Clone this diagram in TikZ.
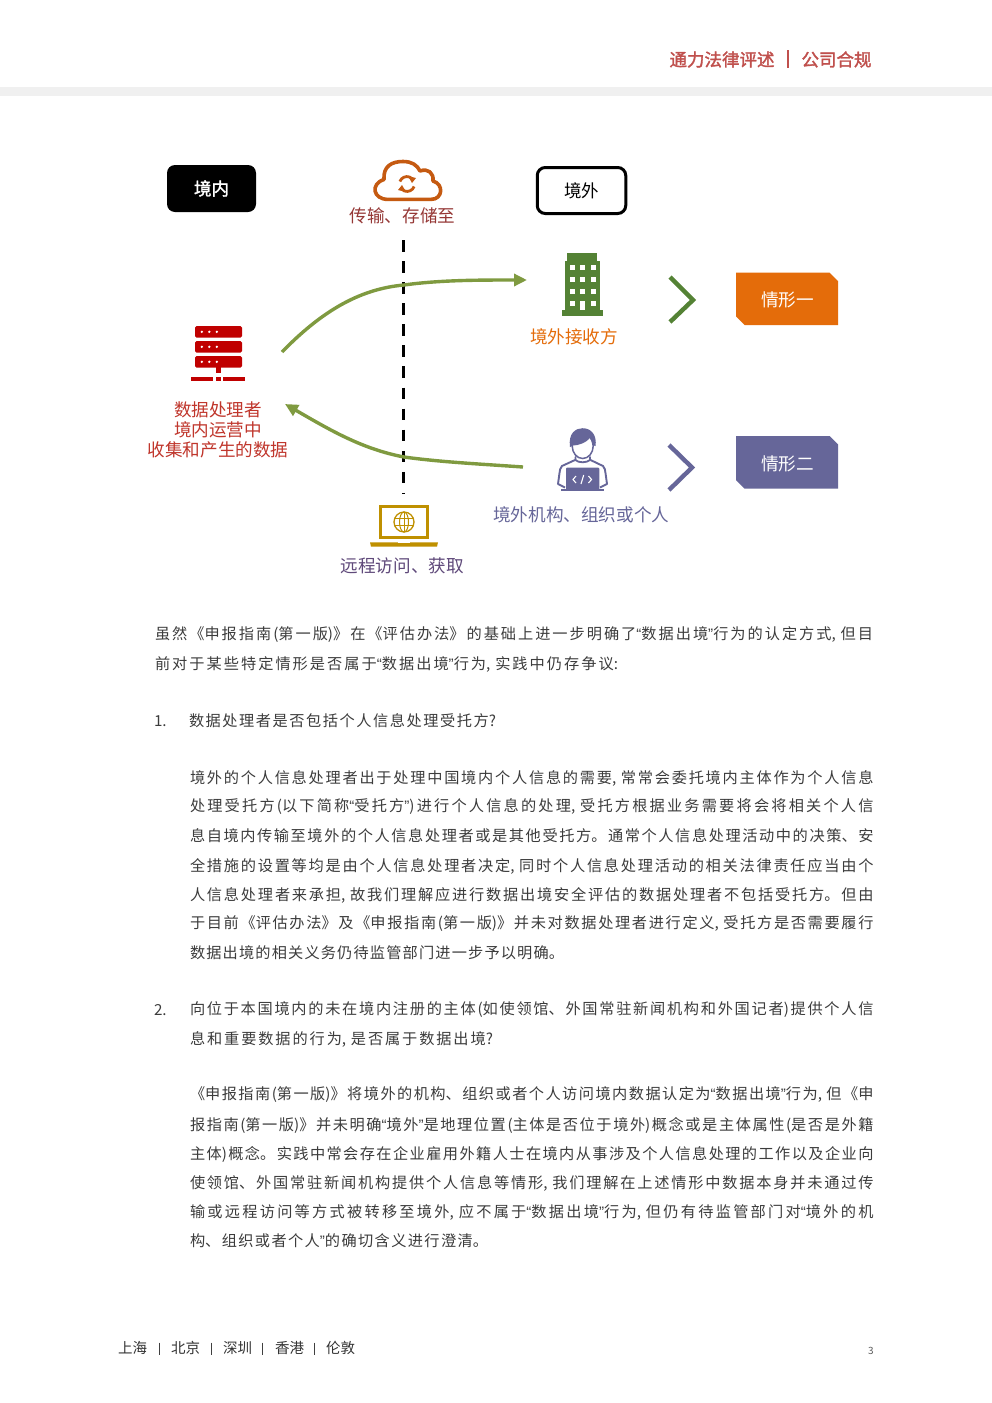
\documentclass[tikz,border=0pt]{standalone}
\usepackage{fontspec}
\setmainfont{Noto Sans CJK SC}
\newfontfamily\fbold[FakeBold=1.8]{Noto Sans CJK SC}
\newfontfamily\lat{Liberation Sans}
\XeTeXlinebreaklocale "zh"
\XeTeXlinebreakskip=0pt plus 3pt
\tolerance=10000 \hbadness=10000 \hfuzz=20pt
\parindent=0pt
\usetikzlibrary{arrows.meta}
\definecolor{cloudc}{HTML}{C55A11}
\definecolor{greenc}{HTML}{7F9A40}
\definecolor{bldc}{HTML}{548235}
\definecolor{redc}{HTML}{C00000}
\definecolor{redt}{HTML}{C0362C}
\definecolor{cloudt}{HTML}{953735}
\definecolor{orangec}{HTML}{E46C0A}
\definecolor{purpc}{HTML}{666699}
\definecolor{purpt}{HTML}{5F497A}
\definecolor{goldc}{HTML}{BF9000}
\definecolor{hdrc}{HTML}{C0504D}
\definecolor{bodyc}{HTML}{3C3C3C}
\newcommand{\Qo}{{\lat “}}
\newcommand{\Qc}{{\lat ”}}
\newcommand{\jl}[1]{{\parfillskip=0pt #1\par}}
\tikzset{
 every node/.style={inner sep=0pt,outer sep=0pt},
 lab/.style={font=\fontsize{17.6}{21}\selectfont,align=center},
 bodyt/.style={anchor=west,text=bodyc,font=\fontsize{15.2}{18}\selectfont},
 fullA/.style={bodyt,text width=718pt,align=justify},
 fullB/.style={bodyt,text width=683.5pt,align=justify},
 partl/.style={bodyt,text width=#1,align=justify},
 foot/.style={anchor=west,text=black!80,font=\fontsize{14.5}{17}\selectfont},
 footbar/.style={draw=black!75,line width=1pt},
 curve/.style={draw=greenc,line width=3.4pt,-{Triangle[length=13pt,width=12pt]}},
 chev/.style={line width=4.4pt,miter limit=10},
}
\begin{document}
\begin{tikzpicture}[x=1pt,y=-1pt]
\useasboundingbox (0,0) rectangle (992,1403);
\fill[white] (0,0) rectangle (992,1403);
% header
\fill[black!6] (0,87) rectangle (992,96);
\node[anchor=west,text=hdrc,font=\fbold\fontsize{17.5}{21}\selectfont] (hd1) at (669.5,59.5) {通力法律评述};
\coordinate (hb1) at (787.7,50); \coordinate (hb2) at (787.7,68);
\draw[hdrc,line width=1.6pt] (hb1) -- (hb2);
\node[anchor=west,text=hdrc,font=\fbold\fontsize{17.5}{21}\selectfont] (hd2) at (801.5,59.5) {公司合规};
% region boxes
\node[fill=black,rounded corners=8pt,minimum width=89pt,minimum height=47pt,text=white,font=\fbold\fontsize{17.5}{21}\selectfont] (inbox) at (211.5,188.5) {境内};
\node[draw=black,line width=3pt,fill=white,rounded corners=8pt,minimum width=88.5pt,minimum height=46pt,font=\fontsize{17.5}{21}\selectfont] (outbox) at (581.5,190.5) {境外};
% cloud
\draw[cloudc,line width=3.6pt,line join=round] (388,199.4) .. controls (373,199.4) and (370,184) .. (384,179.5) .. controls (383,166) and (392,161.5) .. (403,161.5) .. controls (412,161.5) and (417,165) .. (420,171) .. controls (428,168) and (434,173) .. (433,181) .. controls (444,184) and (443,199.4) .. (431,199.4) -- cycle;
\draw[cloudc,line width=2.8pt] (399.9,181.5) arc[start angle=200,end angle=320,radius=7.5];
\draw[cloudc,line width=2.8pt] (414.1,186.5) arc[start angle=20,end angle=140,radius=7.5];
\fill[cloudc] (408,176) -- (416,178) -- (412,183) -- cycle;
\fill[cloudc] (406,192) -- (398,190) -- (402,185) -- cycle;
\node[lab,text=cloudt] (lcloud) at (402.5,215.5) {传输、存储至};
% dashed divider
\coordinate (dtop) at (403.7,240); \coordinate (dbot) at (403.7,494);
\draw[black,line width=2.8pt,dash pattern=on 11.5pt off 9.58pt] (dtop) -- (dbot);
% curves
\coordinate (c1s) at (282,352); \coordinate (c1m) at (404,285); \coordinate (c1e) at (527,280);
\path[curve] (c1s) .. controls (320,313) and (358,289) .. (c1m) .. controls (440,280) and (480,280) .. (c1e);
\coordinate (c2s) at (523,467); \coordinate (c2m) at (404,457); \coordinate (c2e) at (285,404);
\path[curve] (c2s) .. controls (480,464) and (440,462) .. (c2m) .. controls (362,449) and (330,430) .. (c2e);
% server
\foreach \yy in {326,341,356}{
 \fill[redc,rounded corners=1.5pt] (195,\yy) rectangle (242,\yy+11.6);
 \foreach \xx in {201.8,209.3,216.8}{\fill[white] (\xx,\yy+5.8) circle (1.3);}
}
\fill[redc] (216,367) rectangle (220.6,373);
\fill[redc] (216,376.7) rectangle (220.6,381);
\fill[redc] (191,376.7) rectangle (212.7,381);
\fill[redc] (223.3,376.7) rectangle (245,381);
\node[lab,text=redt,font=\fontsize{17.6}{20}\selectfont] (lsrv) at (218,430) {数据处理者\\[-0.2pt]境内运营中\\[-0.2pt]收集和产生的数据};
% building
\fill[bldc] (567,253) rectangle (597,261);
\fill[bldc] (565,260.7) rectangle (600,310);
\fill[bldc] (562,310) rectangle (603,316);
\foreach \yy in {265,277,289}{\foreach \xx in {570,580,590.5}{\fill[white] (\xx,\yy) rectangle (\xx+5,\yy+5);}}
\fill[white] (570,301) rectangle (575,306);
\fill[white] (580,301) rectangle (585,310);
\fill[white] (590.5,301) rectangle (595.5,306);
\node[lab,text=orangec] (lbld) at (574,336.5) {境外接收方};
% chevrons
\coordinate (ch1a) at (670,277); \coordinate (ch1b) at (693,300); \coordinate (ch1c) at (670,322);
\draw[bldc,chev] (ch1a) -- (ch1b) -- (ch1c);
\coordinate (ch2a) at (669,445); \coordinate (ch2b) at (692,467.5); \coordinate (ch2c) at (669,490);
\draw[purpc,chev] (ch2a) -- (ch2b) -- (ch2c);
% cases
\fill[orangec] (736,272.7) -- (829.5,272.7) -- (838,281) -- (838,325) -- (744.5,325) -- (736,316.5) -- cycle;
\node[lab,text=white] (case1) at (787.5,299.5) {情形一};
\fill[purpc] (736,436) -- (829.5,436) -- (838,444.5) -- (838,488.7) -- (744.5,488.7) -- (736,480) -- cycle;
\node[lab,text=white] (case2) at (787.5,463.5) {情形二};
% person
\draw[purpc,line width=1.5pt,fill=white] (582.7,446) ellipse (10.5 and 12.5);
\fill[purpc] (570,447) .. controls (568,433) and (576,428.2) .. (582.5,428.2) .. controls (592,428.2) and (597,436) .. (595.5,446) -- (592.5,445) .. controls (592,442) and (591,440) .. (590,438) .. controls (586,443) and (578,445.5) .. (573,445.5) -- cycle;
\draw[purpc,line width=1.8pt,line join=round,line cap=round] (575.5,457) -- (575.5,460) .. controls (578,463) and (587,463) .. (590,460) -- (590,457);
\draw[purpc,line width=1.9pt,line join=round] (575,460) -- (562,466) .. controls (560,468) and (560,470) .. (559.5,473) -- (558,484) -- (565,487.5);
\draw[purpc,line width=1.9pt,line join=round] (590.5,460) -- (603,466) .. controls (605,468) and (605,470) .. (605.5,473) -- (607,484) -- (600,487.5);
\fill[purpc,rounded corners=1pt] (566,467.7) rectangle (599.3,490);
\fill[purpc] (561,489.2) rectangle (604,491);
\draw[white,line width=1.1pt] (576,476) -- (573,479.5) -- (576,483);
\draw[white,line width=1.1pt] (588.5,476) -- (591.5,479.5) -- (588.5,483);
\draw[white,line width=1.1pt] (583.7,475) -- (581,484);
\node[lab,text=purpc] (lper) at (581.3,515) {境外机构、组织或个人};
% laptop
\draw[goldc,line width=3.2pt] (380.6,506.6) rectangle (427.5,537.5);
\fill[goldc] (370,542.3) -- (438,542.3) -- (437,546.6) -- (371,546.6) -- cycle;
\fill[white] (398,542.3) rectangle (410,543.3);
\draw[goldc,line width=1.3pt] (404,522) circle (10);
\draw[goldc,line width=1pt] (404,522) ellipse (4.5 and 10);
\draw[goldc,line width=1pt] (404,512) -- (404,532);
\draw[goldc,line width=1pt] (395,518.5) -- (413,518.5);
\draw[goldc,line width=1pt] (395,525.5) -- (413,525.5);
\node[lab,text=purpt] (lrem) at (402.3,565.5) {远程访问、获取};
% body
\node[fullA] (t1) at (155,635) {\jl{虽然《申报指南(第一版)》在《评估办法》的基础上进一步明确了\Qo 数据出境\Qc 行为的认定方式, 但目}};
\node[partl=463pt] (t2) at (155,664) {\jl{前对于某些特定情形是否属于\Qo 数据出境\Qc 行为, 实践中仍存争议:}};
\node[bodyt] (n1) at (154,721.5) {1.};
\node[partl=307pt] (t3) at (189,721) {\jl{数据处理者是否包括个人信息处理受托方?}};
\node[fullB] (p1) at (190,778) {\jl{境外的个人信息处理者出于处理中国境内个人信息的需要, 常常会委托境内主体作为个人信息}};
\node[fullB] (p2) at (190,807) {\jl{处理受托方(以下简称\Qo 受托方\Qc)进行个人信息的处理, 受托方根据业务需要将会将相关个人信}};
\node[fullB] (p3) at (190,836) {\jl{息自境内传输至境外的个人信息处理者或是其他受托方。通常个人信息处理活动中的决策、安}};
\node[fullB] (p4) at (190,866) {\jl{全措施的设置等均是由个人信息处理者决定, 同时个人信息处理活动的相关法律责任应当由个}};
\node[fullB] (p5) at (190,895) {\jl{人信息处理者来承担, 故我们理解应进行数据出境安全评估的数据处理者不包括受托方。但由}};
\node[fullB] (p6) at (190,924) {\jl{于目前《评估办法》及《申报指南(第一版)》并未对数据处理者进行定义, 受托方是否需要履行}};
\node[partl=374pt] (p7) at (190,953) {\jl{数据出境的相关义务仍待监管部门进一步予以明确。}};
\node[bodyt] (n2) at (154,1010.5) {2.};
\node[fullB] (q1) at (190,1010) {\jl{向位于本国境内的未在境内注册的主体(如使领馆、外国常驻新闻机构和外国记者)提供个人信}};
\node[partl=303pt] (q2) at (190,1039) {\jl{息和重要数据的行为, 是否属于数据出境?}};
\node[fullB] (r1) at (190,1095) {\jl{《申报指南(第一版)》将境外的机构、组织或者个人访问境内数据认定为\Qo 数据出境\Qc 行为, 但《申}};
\node[fullB] (r2) at (190,1125) {\jl{报指南(第一版)》并未明确\Qo 境外\Qc 是地理位置(主体是否位于境外)概念或是主体属性(是否是外籍}};
\node[fullB] (r3) at (190,1154) {\jl{主体)概念。实践中常会存在企业雇用外籍人士在境内从事涉及个人信息处理的工作以及企业向}};
\node[fullB] (r4) at (190,1183) {\jl{使领馆、外国常驻新闻机构提供个人信息等情形, 我们理解在上述情形中数据本身并未通过传}};
\node[fullB] (r5) at (190,1212) {\jl{输或远程访问等方式被转移至境外, 应不属于\Qo 数据出境\Qc 行为, 但仍有待监管部门对\Qo 境外的机}};
\node[partl=298pt] (r6) at (190,1241) {\jl{构、组织或者个人\Qc 的确切含义进行澄清。}};
% footer
\node[foot] (f1) at (118,1348) {上海};
\node[foot] (f2) at (171,1348) {北京};
\node[foot] (f3) at (223,1348) {深圳};
\node[foot] (f4) at (275,1348) {香港};
\node[foot] (f5) at (326,1348) {伦敦};
\foreach \xx in {159,211,262.5,314}{\draw[footbar] (\xx,1342.5) -- (\xx,1355);}
\node[text=black!65,font=\fontsize{10}{12}\selectfont] (pg) at (871,1351) {3};
\end{tikzpicture}
\end{document}
